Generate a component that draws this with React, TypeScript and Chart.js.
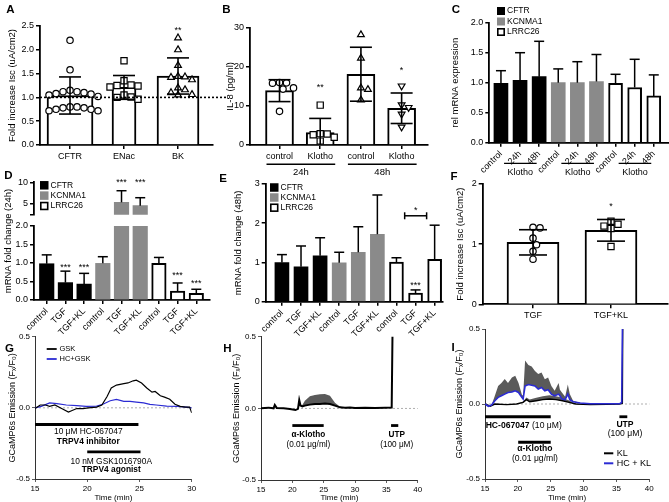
import { useEffect, useRef } from 'react';
import { Chart, registerables } from 'chart.js';

Chart.register(...registerables);

const PW = 669;
const PH = 502;
const FF = "'Liberation Sans', Arial, Helvetica, sans-serif";
const GRAY = '#8a8a8a';
const BLUE = '#2b2bd3';
const BAND = '#5a5a5a';

/* ---------------- A ---------------- */
const A_CATS = ['CFTR', 'ENac', 'BK'];
const A_MEAN = [1.04, 1.21, 1.45];
const A_SD = [0.39, 0.25, 0.38];
const A_CFTR = [2.2, 1.58, 1.15, 1.12, 1.1, 1.12, 1.08, 1.07, 1.05, 1.02, 0.8, 0.78, 0.75, 0.72, 0.72, 0.75, 0.78, 0.8];
const A_ENAC = [1.77, 1.35, 1.26, 1.25, 1.22, 1.24, 1.05, 1.01, 0.96, 1.0];
const A_BK = [2.25, 2.0, 1.67, 1.43, 1.42, 1.44, 1.37, 1.2, 1.16, 1.1, 1.06, 1.05];
const A_SIG = ['', '', '**'];
const A_SIG_Y = [0, 0, 2.45];
const A_YTICKS = [0, 0.5, 1, 1.5, 2, 2.5];
const A_YLABELS = ['0.0', '0.5', '1.0', '1.5', '2.0', '2.5'];
const A_REF = 1.0;

/* ---------------- B ---------------- */
const B_CATS = ['control', 'Klotho', 'control', 'Klotho'];
const B_GROUPS = ['24h', '48h'];
const B_MEAN = [13.9, 3.2, 18.1, 9.4];
const B_SD = [2.8, 3.6, 6.9, 3.9];
const B_CTRL24 = [16.0, 15.9, 15.8, 14.6, 14.3, 8.6];
const B_KL24 = [10.2, 2.9, 2.8, 2.6, 2.0, 1.0];
const B_CTRL48 = [28.2, 22.2, 14.6, 14.2, 11.5];
const B_KL48 = [15.1, 10.3, 9.6, 7.9, 4.6];
const B_SIG = ['', '**', '', '*'];
const B_SIG_Y = [0, 15.3, 0, 19.6];
const B_YTICKS = [0, 10, 20, 30];
const B_YLABELS = ['0', '10', '20', '30'];

/* ---------------- C ---------------- */
const SERIES = ['CFTR', 'KCNMA1', 'LRRC26'];
const C_XLABELS = ['control', '24h', '48h', 'control', '24h', '48h', 'control', '24h', '48h'];
const C_CFTR = [0.99, 1.04, 1.1];
const C_CFTR_ERR = [0.21, 0.46, 0.59];
const C_KCNMA1 = [1.0, 1.0, 1.02];
const C_KCNMA1_ERR = [0.23, 0.35, 0.45];
const C_LRRC26 = [0.99, 0.92, 0.78];
const C_LRRC26_ERR = [0.15, 0.47, 0.35];
const C_GROUP = 'Klotho';
const C_YTICKS = [0, 0.5, 1, 1.5, 2];
const C_YLABELS = ['0.0', '0.5', '1.0', '1.5', '2.0'];

/* ---------------- D ---------------- */
const D_XLABELS = ['control', 'TGF', 'TGF+KL', 'control', 'TGF', 'TGF+KL', 'control', 'TGF', 'TGF+KL'];
const D_CFTR = [0.98, 0.47, 0.43];
const D_CFTR_ERR = [0.24, 0.31, 0.29];
const D_KCNMA1 = [0.99, 5.39, 4.61];
const D_KCNMA1_ERR = [0.18, 2.67, 1.84];
const D_LRRC26 = [0.99, 0.24, 0.18];
const D_LRRC26_ERR = [0.16, 0.22, 0.11];
const D_SIG = ['', '***', '***', '', '***', '***', '', '***', '***'];
const D_SIG_Y = [0, 0.95, 0.95, 0, 10.5, 10.5, 0, 0.72, 0.5];
const D_YTICKS_LOW = [0, 0.5, 1, 1.5, 2];
const D_YLABELS_LOW = ['0.0', '0.5', '1.0', '1.5', '2.0'];
const D_YTICKS_HIGH = [2.5, 5, 10];
const D_YLABELS_HIGH = ['', '5', '10'];
const D_TITLE = 'mRNA fold change (24h)';

/* ---------------- E ---------------- */
const E_XLABELS = ['control', 'TGF', 'TGF+KL', 'control', 'TGF', 'TGF+KL', 'control', 'TGF', 'TGF+KL'];
const E_CFTR = [1.0, 0.89, 1.17];
const E_CFTR_ERR = [0.2, 0.53, 0.46];
const E_KCNMA1 = [0.99, 1.26, 1.72];
const E_KCNMA1_ERR = [0.27, 0.65, 1.0];
const E_LRRC26 = [1.01, 0.22, 1.08];
const E_LRRC26_ERR = [0.11, 0.08, 0.87];
const E_SIG = ['', '', '', '', '', '', '', '***', ''];
const E_SIG_Y = [0, 0, 0, 0, 0, 0, 0, 0.47, 0];
const E_BRACKET = { from: 7, to: 8, y: 2.19, text: '*', textY: 2.38 };
const E_YTICKS = [0, 1, 2, 3];
const E_YLABELS = ['0', '1', '2', '3'];

/* ---------------- F ---------------- */
const F_CATS = ['TGF', 'TGF+KL'];
const F_MEAN = [1.03, 1.23];
const F_SD = [0.21, 0.18];
const F_TGF = [1.28, 1.27, 1.1, 0.99, 0.88, 0.75];
const F_TGFKL = [1.38, 1.33, 1.3, 1.26, 0.96];
const F_SIG = ['', '*'];
const F_SIG_Y = [0, 1.66];
const F_YTICKS = [0, 1, 2];
const F_YLABELS = ['0', '1', '2'];

/* ---------------- G / H / I ---------------- */
const T_YTICKS = [-0.5, 0, 0.5];
const T_YLABELS = ['-0.5', '0.0', '0.5'];
const T_YTITLE = 'GCaMP6s Emission (Fₓ/F₀)';
const G_XTICKS = [15, 20, 25, 30];
const HI_XTICKS = [15, 20, 25, 30, 35, 40];

const G_T_GSK = [15.0, 15.5, 16.0, 16.4, 16.9, 17.55, 18.2, 18.5, 19.0, 19.6, 20.1, 20.9, 21.4, 21.9, 22.3, 22.8, 23.5, 23.9, 24.4, 24.7, 25.2, 25.7, 26.2, 26.5, 27.0, 27.4, 27.9, 28.4, 28.9, 29.4, 29.8, 30.0];
const G_GSK = [-0.005, 0.02, 0.02, 0.01, 0.02, -0.005, -0.03, -0.02, -0.005, -0.005, 0, 0.005, 0.02, 0.08, 0.14, 0.16, 0.17, 0.175, 0.19, 0.195, 0.175, 0.14, 0.11, 0.115, 0.085, 0.075, 0.06, 0.025, 0.01, 0.005, 0.005, -0.035];
const G_T_HC = [15, 15.6, 16.4, 17.1, 18.0, 19.0, 19.9, 20.9, 21.5, 22.2, 22.8, 23.5, 24.1, 24.7, 25.4, 26.0, 26.6, 27.6, 28.6, 29.5, 30];
const G_HCGSK = [0, 0.01, 0.035, 0.03, 0.02, 0.015, 0.01, 0.012, 0.025, 0.05, 0.06, 0.045, 0.045, 0.04, 0.035, 0.025, 0.02, 0.012, 0.01, 0.005, 0];
const G_HC_WIN = [15, 24.9];
const G_GSK_WIN = [20, 25.1];

const H_T = [15, 16.2, 17.0, 17.2, 17.5, 18.6, 19.6, 20.5, 20.9, 21.1, 21.3, 21.6, 22.0, 22.8, 23.6, 24.4, 25.2, 26.0, 26.8, 27.6, 28.4, 29.2, 30.0, 31.6, 33.2, 34.8, 35.85, 36.05];
const H_MEAN = [0, 0.005, 0, 0.023, 0.003, 0, -0.004, -0.012, -0.004, 0.058, 0.02, 0.014, 0.019, 0.026, 0.03, 0.03, 0.033, 0.03, 0.019, 0.007, 0.004, 0.006, 0.002, 0.004, 0.002, 0.004, 0.006, 0.8];
const H_SEM = [0, 0, 0, 0, 0, 0, 0, 0, 0, 0, 0, 0.01, 0.034, 0.058, 0.063, 0.068, 0.067, 0.058, 0.02, 0.005, 0, 0, 0, 0, 0, 0, 0, 0];
const H_KL_WIN = [20, 25];
const H_UTP_WIN = [35.75, 36.9];

const I_T_HC = [15.0, 15.5, 16.0, 16.5, 17.0, 17.5, 18.0, 18.5, 19.1, 19.6, 20.1, 20.6, 20.8, 21.1, 21.6, 22.1, 22.6, 23.1, 23.6, 24.1, 24.6, 25.1, 25.6, 26.2, 26.4, 26.7, 27.2, 27.6, 27.9, 28.4, 29.5, 31.0, 33.5, 35.5, 35.8, 36.0];
const I_HCKL = [0, -0.015, -0.007, 0.022, 0.044, 0.055, 0.066, 0.077, 0.08, 0.088, 0.077, 0.044, 0.033, 0.12, 0.13, 0.125, 0.12, 0.1, 0.11, 0.088, 0.095, 0.066, 0.055, 0.066, 0.055, 0.033, 0.029, 0.066, 0.029, 0.015, 0.007, 0.002, 0.002, 0.002, 0.01, 0.9];
const I_HCKL_SEM = [0, 0, 0, 0.033, 0.076, 0.085, 0.1, 0.063, 0.096, 0.1, 0.063, 0.02, 0.022, 0.17, 0.13, 0.125, 0.1, 0.1, 0.1, 0.077, 0.081, 0.054, 0.033, 0.074, 0.04, 0.044, 0.02, 0.064, 0.037, 0.007, 0, 0, 0, 0, 0, 0];
const I_T_KL = [15.0, 15.8, 16.5, 18.3, 19.8, 20.8, 21.3, 21.8, 22.8, 23.8, 24.8, 25.8, 26.8, 27.8, 28.8, 31.0, 33.5, 35.5, 35.9, 36.0];
const I_KL = [0, -0.015, 0, -0.004, 0, 0.011, 0.029, 0.015, 0.022, 0.029, 0.033, 0.029, 0.022, 0.011, 0, -0.004, -0.002, 0, 0.005, 0.9];
const I_KL_SEM = [0, 0, 0, 0, 0, 0.005, 0.015, 0.015, 0.02, 0.022, 0.025, 0.022, 0.02, 0.012, 0.004, 0, 0, 0, 0, 0];
const I_HC_WIN = [15, 25];
const I_KL_WIN = [20.05, 25];
const I_UTP_WIN = [35.45, 36.65];

/* ---------------- layout ---------------- */
type Box = { L: number; T: number; R: number; B: number; yw: number; xh: number };
type Range = [number, number];

const BOX_A: Box = { L: 40, T: 26, R: 213, B: 145, yw: 33.7, xh: 22 };
const XR_A: Range = [-0.556, 2.648];
const BOX_B: Box = { L: 250, T: 27.7, R: 428, B: 145, yw: 25.7, xh: 34 };
const XR_B: Range = [-0.725, 3.648];
const BOX_C: Box = { L: 489.3, T: 22.7, R: 669, B: 142.7, yw: 40, xh: 40 };
const XR_C: Range = [-0.61, 8.798];
const BOX_DL: Box = { L: 34, T: 226, R: 210, B: 300, yw: 22, xh: 40 };
const BOX_DH: Box = { L: 34, T: 182.3, R: 210, B: 214.85, yw: 22, xh: 0 };
const XR_D: Range = [-0.68, 8.732];
const BOX_E: Box = { L: 265.7, T: 184, R: 443, B: 301.7, yw: 33.1, xh: 40 };
const XR_E: Range = [-0.85, 8.438];
const BOX_F: Box = { L: 482.7, T: 184, R: 668, B: 304.3, yw: 28.4, xh: 20 };
const XR_F: Range = [-0.645, 1.731];
const BOX_G: Box = { L: 35, T: 336.7, R: 191.7, B: 479, yw: 27.9, xh: 23.5 };
const BOX_H: Box = { L: 261, T: 336.7, R: 417.7, B: 480, yw: 29.7, xh: 22.5 };
const BOX_I: Box = { L: 485, T: 329, R: 649.3, B: 479, yw: 30.4, xh: 23.5 };

const ST_TOP = { tick: 9, title: 9.5, pad: 2, tl: 4, tw: 1.5, bw: 1.8, col: '#000' };
const ST_TIME = { tick: 8, title: 9, pad: 2, tl: 3, tw: 0.8, bw: 1, col: '#333' };

const layoutOf = (b: Box) => ({
  autoPadding: false,
  padding: { left: b.L - b.yw, top: b.T, right: PW - b.R, bottom: PH - b.B - b.xh },
});

const yAxis = (b: Box, r: Range, ticks: number[], labels: string[], title: string | null, st: any) => ({
  type: 'linear',
  position: 'left',
  min: r[0],
  max: r[1],
  afterBuildTicks: (s: any) => { s.ticks = ticks.map((v) => ({ value: v })); },
  afterFit: (s: any) => { s.width = b.yw; },
  ticks: { autoSkip: false, callback: (_v: any, i: number) => labels[i], font: { family: FF, size: st.tick }, color: '#000', padding: st.pad },
  grid: { display: true, drawOnChartArea: false, drawTicks: true, tickLength: st.tl, tickWidth: st.tw, tickColor: st.col, color: st.col, lineWidth: st.tw, offset: false },
  border: { display: true, color: st.col, width: st.bw },
  title: title ? { display: true, text: title, font: { family: FF, size: st.title }, color: '#000', padding: 0 } : { display: false },
});

const xCat = (b: Box, r: Range, labels: string[], rot: number, st: any, display = true) => ({
  type: 'linear',
  position: 'bottom',
  display,
  offset: false,
  min: r[0],
  max: r[1],
  afterBuildTicks: (s: any) => { s.ticks = labels.map((_l, i) => ({ value: i })); },
  afterFit: (s: any) => { s.height = b.xh; },
  ticks: { autoSkip: false, maxRotation: rot, minRotation: rot, callback: (_v: any, i: number) => labels[i], font: { family: FF, size: st.tick }, color: '#000', padding: st.pad },
  grid: { display: true, drawOnChartArea: false, drawTicks: true, tickLength: st.tl, tickWidth: st.tw, tickColor: st.col, color: st.col, lineWidth: st.tw, offset: false },
  border: { display: true, color: st.col, width: st.bw },
});

const xTime = (b: Box, r: Range, ticks: number[], st: any) => ({
  type: 'linear',
  position: 'bottom',
  offset: false,
  min: r[0],
  max: r[1],
  afterBuildTicks: (s: any) => { s.ticks = ticks.map((v) => ({ value: v })); },
  afterFit: (s: any) => { s.height = b.xh; },
  ticks: { autoSkip: false, maxRotation: 0, minRotation: 0, callback: (v: any) => String(v), font: { family: FF, size: st.tick }, color: '#000', padding: st.pad },
  grid: { display: true, drawOnChartArea: false, drawTicks: true, tickLength: st.tl, tickWidth: st.tw, tickColor: st.col, color: st.col, lineWidth: st.tw, offset: false },
  border: { display: true, color: st.col, width: st.bw },
  title: { display: true, text: 'Time (min)', font: { family: FF, size: 8 }, color: '#000', padding: 0 },
});

/* ---------------- drawing helpers ---------------- */
const txt = (ctx: CanvasRenderingContext2D, s: string, x: number, y: number, size: number, opt: any = {}) => {
  ctx.save();
  ctx.font = `${opt.bold ? 'bold ' : ''}${size}px ${FF}`;
  ctx.fillStyle = opt.color || '#000';
  ctx.textAlign = opt.align || 'center';
  ctx.textBaseline = opt.base || 'middle';
  ctx.translate(x, y);
  if (opt.rot) ctx.rotate(opt.rot);
  ctx.fillText(s, 0, 0);
  ctx.restore();
};

const rich = (ctx: CanvasRenderingContext2D, parts: [string, boolean][], x: number, y: number, size: number, align: string) => {
  ctx.save();
  const ws = parts.map(([s, b]) => { ctx.font = `${b ? 'bold ' : ''}${size}px ${FF}`; return ctx.measureText(s).width; });
  const tot = ws.reduce((a, w) => a + w, 0);
  let cx = align === 'center' ? x - tot / 2 : x;
  ctx.textAlign = 'left';
  ctx.textBaseline = 'middle';
  ctx.fillStyle = '#000';
  parts.forEach(([s, b], i) => { ctx.font = `${b ? 'bold ' : ''}${size}px ${FF}`; ctx.fillText(s, cx, y); cx += ws[i]; });
  ctx.restore();
};

const seg = (ctx: CanvasRenderingContext2D, x0: number, y0: number, x1: number, y1: number, lw: number, color = '#000', dash: number[] = []) => {
  ctx.save();
  ctx.strokeStyle = color;
  ctx.lineWidth = lw;
  ctx.setLineDash(dash);
  ctx.beginPath();
  ctx.moveTo(x0, y0);
  ctx.lineTo(x1, y1);
  ctx.stroke();
  ctx.restore();
};

const letter = (ctx: CanvasRenderingContext2D, s: string, x: number, y: number) => txt(ctx, s, x, y, 11.5, { bold: true });

const errBars = (c: any, items: { x: number; m: number; e: number; both: boolean }[], cap: number, lw: number) => {
  const ctx = c.ctx, xs = c.scales.x, ys = c.scales.y;
  const lo = ys.min, hi = ys.max;
  for (const it of items) {
    const px = xs.getPixelForValue(it.x);
    const top = it.m + it.e;
    const bot = it.both ? it.m - it.e : it.m;
    const a = Math.max(lo, bot), bb = Math.min(hi, top);
    if (bb > a) seg(ctx, px, ys.getPixelForValue(a), px, ys.getPixelForValue(bb), lw);
    if (top <= hi && top >= lo) { const y = ys.getPixelForValue(top); seg(ctx, px - cap / 2, y, px + cap / 2, y, lw); }
    if (it.both && bot >= lo && bot <= hi) { const y = ys.getPixelForValue(bot); seg(ctx, px - cap / 2, y, px + cap / 2, y, lw); }
  }
};

const stars = (c: any, sig: string[], sy: number[], keep: (y: number) => boolean = () => true) => {
  const xs = c.scales.x, ys = c.scales.y;
  sig.forEach((s, i) => { if (s && keep(sy[i])) txt(c.ctx, s, xs.getPixelForValue(i), ys.getPixelForValue(sy[i]) + 2.5, 9); });
};

const SER_FILL = ['#000', GRAY, '#fff'];
const SER_BORDER = ['#000', GRAY, '#000'];
const SER_BW = [0, 0, 2];

const sqLegend = (ctx: CanvasRenderingContext2D, x: number, ys: number[], size: number, font: number) => {
  SERIES.forEach((n, i) => {
    const y = ys[i];
    ctx.save();
    ctx.fillStyle = SER_FILL[i];
    ctx.fillRect(x, y - size / 2, size, size);
    if (i === 2) { ctx.strokeStyle = '#000'; ctx.lineWidth = 1.6; ctx.strokeRect(x + 0.8, y - size / 2 + 0.8, size - 1.6, size - 1.6); }
    ctx.restore();
    txt(ctx, n, x + size + 2, y, font, { align: 'left' });
  });
};

// simple beeswarm: spread points of one group sideways so that markers barely overlap
const swarm = (vals: number[], cx: number, b: Box, xr: Range, yr: Range, minDist: number) => {
  const ppx = (b.R - b.L) / (xr[1] - xr[0]);
  const ppy = (b.B - b.T) / (yr[1] - yr[0]);
  const step = minDist / 2;
  const placed: [number, number][] = [];
  const out: { x: number; y: number }[] = new Array(vals.length);
  const order = vals.map((_v, i) => i).sort((p, q) => vals[q] - vals[p]);
  for (const i of order) {
    const py = vals[i] * ppy;
    let off = 0;
    for (let k = 0; k < 80; k++) {
      const cand = k === 0 ? 0 : (k % 2 ? 1 : -1) * Math.ceil(k / 2) * step;
      if (placed.every(([qx, qy]) => Math.hypot(qx - cand, qy - py) >= minDist)) { off = cand; break; }
    }
    placed.push([off, py]);
    out[i] = { x: cx + off / ppx, y: vals[i] };
  }
  return out;
};

const ptsDs = (data: any[], style: string, radius: number, rot = 0) => ({
  type: 'scatter', data, pointStyle: style, pointRadius: radius, pointRotation: rot,
  pointBackgroundColor: '#fff', pointBorderColor: '#000', pointBorderWidth: 1.2, showLine: false, order: 0, clip: false,
});

const barDs = (data: any[], fill: string, border: string, bw: number, thick: number) => ({
  type: 'bar', data, backgroundColor: fill, borderColor: border, borderWidth: bw, barThickness: thick, grouped: false, order: 2, clip: 0,
});

const seriesDs = (vals: number[][], thick: number, keep: (v: number) => boolean = () => true) =>
  vals.map((v, s) => barDs(v.map((y, k) => ({ x: s * 3 + k, y })).filter((p) => keep(p.y)), SER_FILL[s], SER_BORDER[s], SER_BW[s], thick));

const seriesErr = (vals: number[][], errs: number[][]) => {
  const out: { x: number; m: number; e: number; both: boolean }[] = [];
  vals.forEach((v, s) => v.forEach((m, k) => out.push({ x: s * 3 + k, m, e: errs[s][k], both: false })));
  return out;
};

const lineDs = (t: number[], v: number[], color: string, w: number, order: number, extra: any = {}) => ({
  type: 'line', data: t.map((x, i) => ({ x, y: v[i] })), borderColor: color, borderWidth: w, pointRadius: 0, fill: false, tension: 0, order, ...extra,
});

const COMMON: any = {
  responsive: false,
  maintainAspectRatio: false,
  animation: false,
  devicePixelRatio: 1,
  events: [],
  plugins: { legend: { display: false }, tooltip: { enabled: false } },
};

const mk = (cv: HTMLCanvasElement, type: string, b: Box, scales: any, datasets: any[], after: (c: any, ctx: CanvasRenderingContext2D) => void, before?: (c: any, ctx: CanvasRenderingContext2D) => void) =>
  new Chart(cv, {
    type: type as any,
    data: { datasets } as any,
    options: { ...COMMON, layout: layoutOf(b), scales },
    plugins: [{
      id: 'deco',
      beforeDatasetsDraw: (c: any) => { if (before) before(c, c.ctx); },
      afterDatasetsDraw: (c: any) => after(c, c.ctx),
    }],
  } as any);

const SW = 7; // marker spacing in the swarms (px)

/* ---------------- panels ---------------- */
function buildA(cv: HTMLCanvasElement) {
  const b = BOX_A, xr = XR_A, yr: Range = [0, 2.5];
  const pts = [A_CFTR, A_ENAC, A_BK];
  const shapes = ['circle', 'rect', 'triangle'];
  const radii = [3.2, 4.4, 3.9];
  const widths = [46, 24, 42];
  const ds: any[] = [];
  pts.forEach((p, i) => ds.push(ptsDs(swarm(p, i, b, xr, yr, SW), shapes[i], radii[i])));
  A_MEAN.forEach((m, i) => ds.push(barDs([{ x: i, y: m }], '#fff', '#000', 2, widths[i])));
  return mk(cv, 'bar', b, {
    x: xCat(b, xr, A_CATS, 0, ST_TOP),
    y: yAxis(b, yr, A_YTICKS, A_YLABELS, 'Fold increase Isc (uA/cm2)', ST_TOP),
  }, ds, (c, ctx) => {
    errBars(c, A_MEAN.map((m, i) => ({ x: i, m, e: A_SD[i], both: true })), 22, 1.6);
    const y = c.scales.y.getPixelForValue(A_REF);
    seg(ctx, c.chartArea.left, y, c.chartArea.right + 15, y, 1.6, '#000', [2, 2]);
    stars(c, A_SIG, A_SIG_Y);
    letter(ctx, 'A', 10.5, 9.5);
  });
}

function buildB(cv: HTMLCanvasElement) {
  const b = BOX_B, xr = XR_B, yr: Range = [0, 30];
  const pts = [B_CTRL24, B_KL24, B_CTRL48, B_KL48];
  const shapes = ['circle', 'rect', 'triangle', 'triangle'];
  const radii = [3.2, 4.4, 3.9, 3.9];
  const rots = [0, 0, 0, 180];
  const ds: any[] = [];
  pts.forEach((p, i) => ds.push(ptsDs(swarm(p, i, b, xr, yr, SW), shapes[i], radii[i], rots[i])));
  ds.push(barDs(B_MEAN.map((m, i) => ({ x: i, y: m })), '#fff', '#000', 2, 28));
  return mk(cv, 'bar', b, {
    x: xCat(b, xr, B_CATS, 0, ST_TOP),
    y: yAxis(b, yr, B_YTICKS, B_YLABELS, 'IL-8 (pg/ml)', ST_TOP),
  }, ds, (c, ctx) => {
    errBars(c, B_MEAN.map((m, i) => ({ x: i, m, e: B_SD[i], both: true })), 22, 1.6);
    stars(c, B_SIG, B_SIG_Y);
    const xs = c.scales.x;
    B_GROUPS.forEach((g, k) => {
      const x0 = xs.getPixelForValue(2 * k) - 13, x1 = xs.getPixelForValue(2 * k + 1) + 15;
      seg(ctx, x0, 164.3, x1, 164.3, 1.5);
      txt(ctx, g, (x0 + x1) / 2, 172, 9.5);
    });
    letter(ctx, 'B', 226.3, 10);
  });
}

function buildC(cv: HTMLCanvasElement) {
  const b = BOX_C, xr = XR_C, yr: Range = [0, 2];
  const vals = [C_CFTR, C_KCNMA1, C_LRRC26];
  const ds = seriesDs(vals, 14);
  return mk(cv, 'bar', b, {
    x: xCat(b, xr, C_XLABELS, 45, ST_TOP),
    y: yAxis(b, yr, C_YTICKS, C_YLABELS, 'rel mRNA expression', ST_TOP),
  }, ds, (c, ctx) => {
    errBars(c, seriesErr(vals, [C_CFTR_ERR, C_KCNMA1_ERR, C_LRRC26_ERR]), 10, 1.5);
    sqLegend(ctx, 497, [11, 21.5, 32], 8, 8.5);
    const xs = c.scales.x;
    for (let g = 0; g < 3; g++) {
      const x0 = xs.getPixelForValue(g * 3 + 1) - 16, x1 = xs.getPixelForValue(g * 3 + 2) - 2.5;
      seg(ctx, x0, 163.3, x1, 163.3, 1.2);
      txt(ctx, C_GROUP, (x0 + x1) / 2, 172.7, 9);
    }
    letter(ctx, 'C', 455.8, 10);
  });
}

function buildDHigh(cv: HTMLCanvasElement) {
  const b = BOX_DH, xr = XR_D, yr: Range = [2.5, 10];
  const vals = [D_CFTR, D_KCNMA1, D_LRRC26];
  const ds = seriesDs(vals, 14.5, (v) => v > yr[0]);
  return mk(cv, 'bar', b, {
    x: xCat(b, xr, D_XLABELS, 45, ST_TOP, false),
    y: yAxis(b, yr, D_YTICKS_HIGH, D_YLABELS_HIGH, null, ST_TOP),
  }, ds, (c, ctx) => {
    errBars(c, seriesErr(vals, [D_CFTR_ERR, D_KCNMA1_ERR, D_LRRC26_ERR]).filter((it) => it.m > yr[0]), 10, 1.5);
    stars(c, D_SIG, D_SIG_Y, (y) => y > yr[0]);
    sqLegend(ctx, 40, [185.3, 195.6, 206], 8.5, 8.5);
    txt(ctx, D_TITLE, 8.3, 241, 9.5, { rot: -Math.PI / 2 });
    letter(ctx, 'D', 8.3, 176);
  });
}

function buildDLow(cv: HTMLCanvasElement) {
  const b = BOX_DL, xr = XR_D, yr: Range = [0, 2];
  const vals = [D_CFTR, D_KCNMA1, D_LRRC26];
  const ds = seriesDs(vals, 14.5);
  return mk(cv, 'bar', b, {
    x: xCat(b, xr, D_XLABELS, 45, ST_TOP),
    y: yAxis(b, yr, D_YTICKS_LOW, D_YLABELS_LOW, null, ST_TOP),
  }, ds, (c) => {
    errBars(c, seriesErr(vals, [D_CFTR_ERR, D_KCNMA1_ERR, D_LRRC26_ERR]), 10, 1.5);
    stars(c, D_SIG, D_SIG_Y, (y) => y <= yr[1]);
  });
}

function buildE(cv: HTMLCanvasElement) {
  const b = BOX_E, xr = XR_E, yr: Range = [0, 3];
  const vals = [E_CFTR, E_KCNMA1, E_LRRC26];
  const ds = seriesDs(vals, 14);
  return mk(cv, 'bar', b, {
    x: xCat(b, xr, E_XLABELS, 45, ST_TOP),
    y: yAxis(b, yr, E_YTICKS, E_YLABELS, 'mRNA fold change (48h)', ST_TOP),
  }, ds, (c, ctx) => {
    errBars(c, seriesErr(vals, [E_CFTR_ERR, E_KCNMA1_ERR, E_LRRC26_ERR]), 10, 1.5);
    stars(c, E_SIG, E_SIG_Y);
    const xs = c.scales.x, ys = c.scales.y;
    const x0 = xs.getPixelForValue(E_BRACKET.from - 0.57), x1 = xs.getPixelForValue(E_BRACKET.to - 0.42);
    const y = ys.getPixelForValue(E_BRACKET.y);
    seg(ctx, x0, y, x1, y, 1.5);
    seg(ctx, x0, y - 3.5, x0, y + 3.5, 1.5);
    seg(ctx, x1, y - 3.5, x1, y + 3.5, 1.5);
    txt(ctx, E_BRACKET.text, (x0 + x1) / 2, ys.getPixelForValue(E_BRACKET.textY) + 2.5, 9);
    sqLegend(ctx, 270, [187.5, 197.5, 207.7], 8.5, 8.5);
    letter(ctx, 'E', 223, 179);
  });
}

function buildF(cv: HTMLCanvasElement) {
  const b = BOX_F, xr = XR_F, yr: Range = [0, 2];
  const ds: any[] = [
    ptsDs(swarm(F_TGF, 0, b, xr, yr, SW), 'circle', 3.2),
    ptsDs(swarm(F_TGFKL, 1, b, xr, yr, SW), 'rect', 4.4),
    barDs(F_MEAN.map((m, i) => ({ x: i, y: m })), '#fff', '#000', 2, 52),
  ];
  return mk(cv, 'bar', b, {
    x: xCat(b, xr, F_CATS, 0, ST_TOP),
    y: yAxis(b, yr, F_YTICKS, F_YLABELS, 'Fold increase Isc (uA/cm2)', ST_TOP),
  }, ds, (c, ctx) => {
    errBars(c, F_MEAN.map((m, i) => ({ x: i, m, e: F_SD[i], both: true })), 28, 1.6);
    stars(c, F_SIG, F_SIG_Y);
    letter(ctx, 'F', 454, 176.7);
  });
}

const zeroLine = (c: any, ctx: CanvasRenderingContext2D) => {
  const y = c.scales.y.getPixelForValue(0);
  seg(ctx, c.chartArea.left, y, c.chartArea.right, y, 0.8, '#999', [2, 2]);
};

function buildG(cv: HTMLCanvasElement) {
  const b = BOX_G;
  const ds = [
    lineDs(G_T_GSK, G_GSK, '#000', 1.2, 0),
    lineDs(G_T_HC, G_HCGSK, BLUE, 1.2, 1),
  ];
  return mk(cv, 'line', b, {
    x: xTime(b, [15, 30], G_XTICKS, ST_TIME),
    y: yAxis(b, [-0.5, 0.5], T_YTICKS, T_YLABELS, T_YTITLE, ST_TIME),
  }, ds, (c, ctx) => {
    const X = (t: number) => c.scales.x.getPixelForValue(t), Y = (v: number) => c.scales.y.getPixelForValue(v);
    seg(ctx, X(G_HC_WIN[0]), Y(-0.117), X(G_HC_WIN[1]), Y(-0.117), 2.8);
    txt(ctx, '10 μM HC-067047', X(20.1), Y(-0.165), 8.4);
    txt(ctx, 'TRPV4 inhibitor', X(20.1), Y(-0.24), 8.4, { bold: true });
    seg(ctx, X(G_GSK_WIN[0]), Y(-0.31), X(G_GSK_WIN[1]), Y(-0.31), 2.8);
    txt(ctx, '10 nM GSK1016790A', X(22.3), Y(-0.38), 8.4);
    txt(ctx, 'TRPV4 agonist', X(22.3), Y(-0.438), 8.4, { bold: true });
    seg(ctx, 46.7, 349, 56.7, 349, 1.8, '#000');
    txt(ctx, 'GSK', 59.5, 349, 7.5, { align: 'left' });
    seg(ctx, 46.7, 359, 56.7, 359, 1.8, BLUE);
    txt(ctx, 'HC+GSK', 59.5, 359, 7.5, { align: 'left' });
    letter(ctx, 'G', 9.5, 349);
  }, zeroLine);
}

function buildH(cv: HTMLCanvasElement) {
  const b = BOX_H;
  const ds = [
    lineDs(H_T, H_MEAN, '#000', 2, 0),
    lineDs(H_T, H_MEAN.map((m, i) => m + H_SEM[i]), 'rgba(0,0,0,0)', 0, 1, { fill: 0, backgroundColor: BAND }),
  ];
  return mk(cv, 'line', b, {
    x: xTime(b, [15, 40], HI_XTICKS, ST_TIME),
    y: yAxis(b, [-0.5, 0.5], T_YTICKS, T_YLABELS, T_YTITLE, ST_TIME),
  }, ds, (c, ctx) => {
    const X = (t: number) => c.scales.x.getPixelForValue(t), Y = (v: number) => c.scales.y.getPixelForValue(v);
    seg(ctx, X(H_KL_WIN[0]), Y(-0.12), X(H_KL_WIN[1]), Y(-0.12), 2.8);
    txt(ctx, 'α-Klotho', X(22.55), Y(-0.186), 8.2, { bold: true });
    txt(ctx, '(0.01 μg/ml)', X(22.55), Y(-0.251), 8.2);
    seg(ctx, X(H_UTP_WIN[0]), Y(-0.12), X(H_UTP_WIN[1]), Y(-0.12), 2.8);
    txt(ctx, 'UTP', X(36.65), Y(-0.186), 8.2, { bold: true });
    txt(ctx, '(100 μM)', X(36.65), Y(-0.251), 8.2);
    letter(ctx, 'H', 227.5, 349);
  }, zeroLine);
}

function buildI(cv: HTMLCanvasElement) {
  const b = BOX_I;
  const ds = [
    lineDs(I_T_HC, I_HCKL, BLUE, 1.6, 0),
    lineDs(I_T_KL, I_KL, '#000', 1.4, 1),
    lineDs(I_T_HC, I_HCKL.map((m, i) => m + I_HCKL_SEM[i]), 'rgba(0,0,0,0)', 0, 2, { fill: 0, backgroundColor: BAND }),
    lineDs(I_T_KL, I_KL.map((m, i) => m + I_KL_SEM[i]), 'rgba(0,0,0,0)', 0, 3, { fill: 1, backgroundColor: BAND }),
  ];
  return mk(cv, 'line', b, {
    x: xTime(b, [15, 40], HI_XTICKS, ST_TIME),
    y: yAxis(b, [-0.5, 0.5], T_YTICKS, T_YLABELS, T_YTITLE, ST_TIME),
  }, ds, (c, ctx) => {
    const X = (t: number) => c.scales.x.getPixelForValue(t), Y = (v: number) => c.scales.y.getPixelForValue(v);
    seg(ctx, X(I_HC_WIN[0]), Y(-0.085), X(I_HC_WIN[1]), Y(-0.085), 2.8);
    rich(ctx, [['HC-067047', true], [' (10 μM)', false]], X(15.1), Y(-0.145), 8.6, 'left');
    seg(ctx, X(I_KL_WIN[0]), Y(-0.255), X(I_KL_WIN[1]), Y(-0.255), 2.8);
    txt(ctx, 'α-Klotho', X(22.6), Y(-0.3), 8.6, { bold: true });
    txt(ctx, '(0.01 μg/ml)', X(22.6), Y(-0.367), 8.6);
    seg(ctx, X(I_UTP_WIN[0]), Y(-0.085), X(I_UTP_WIN[1]), Y(-0.085), 2.8);
    txt(ctx, 'UTP', X(36.3), Y(-0.14), 8.6, { bold: true });
    txt(ctx, '(100 μM)', X(36.3), Y(-0.2), 8.6);
    seg(ctx, 604, 453.3, 613.3, 453.3, 2, '#000');
    txt(ctx, 'KL', 616.7, 453.3, 9, { align: 'left' });
    seg(ctx, 604, 463.3, 613.3, 463.3, 2, BLUE);
    txt(ctx, 'HC + KL', 616.7, 463.3, 9, { align: 'left' });
    letter(ctx, 'I', 453, 348);
  }, zeroLine);
}

const BUILDERS = [buildA, buildB, buildC, buildDHigh, buildDLow, buildE, buildF, buildG, buildH, buildI];

export default function App() {
  const refs = useRef<(HTMLCanvasElement | null)[]>([]);
  useEffect(() => {
    const charts = BUILDERS.map((fn, i) => fn(refs.current[i] as HTMLCanvasElement));
    return () => charts.forEach((c) => c.destroy());
  }, []);
  return (
    <div style={{ position: 'absolute', left: 0, top: 0, width: PW, height: PH, background: '#fff', overflow: 'hidden' }}>
      {BUILDERS.map((_f, i) => (
        <canvas
          key={i}
          ref={(el) => { refs.current[i] = el; }}
          width={PW}
          height={PH}
          style={{ position: 'absolute', left: 0, top: 0, width: PW, height: PH }}
        />
      ))}
    </div>
  );
}
